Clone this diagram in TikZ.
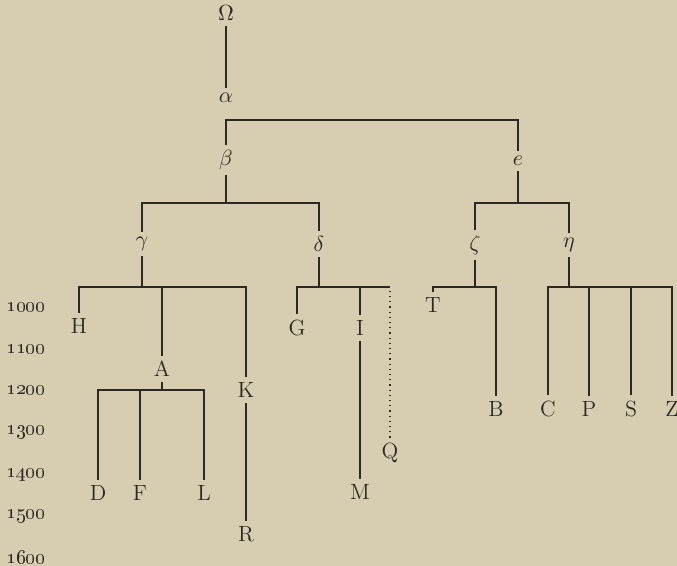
\documentclass[tikz,border=0pt]{standalone}
\usepackage{amsmath}
\usetikzlibrary{positioning,calc}
\definecolor{paper}{RGB}{215,205,177}
\definecolor{ink}{RGB}{45,40,35}
\tikzset{font=\fontsize{11}{13}\selectfont, year/.style={inner sep=1pt, font=\normalsize}}

\begin{document}
\begin{tikzpicture}[x=0.5pt, y=-0.5pt, line width=0.6pt]
	\path[use as bounding box, fill=paper] (0,0) rectangle (677,566);
	\begin{scope}[color=ink]
		\tikzstyle{every node}=[align=center, inner sep=2.5pt]
		% centuries
		\foreach \yr/\ypos in {1000/307,1100/349,1200/390,1300/432,1400/475,1500/516,1600/557}
			\node[year] (y\yr) at (26,\ypos) {\oldstylenums{\yr}};

		\node (omega) at (226,13) {$\Omega$};
		\node (alpha) at (226,98) {$\alpha$};
		\node (beta) at (226,160) {$\beta$};
		\node (eps) at (518,161) {$e$};
		\node (gamma) at (142,244) {$\gamma$};
		\node (delta) at (319,244) {$\delta$};
		\node (zeta) at (475,245) {$\zeta$};
		\node (eta) at (569,245) {$\eta$};

		\node (H) at (79,326) {H};
		\node (A) at (162,369) {A};
		\node (K) at (246,390) {K};
		\node (D) at (98,493) {D};
		\node (F) at (140,493) {F};
		\node (L) at (204,493) {L};
		\node (R) at (246,534) {R};
		\node (G) at (297,328) {G};
		\node (I) at (360,328) {I};
		\node (M) at (360,492) {M};
		\node (Q) at (390,453) {Q};
		\node (T) at (433,305) {T};
		\node (B) at (496,409) {B};
		\node (C) at (548,409) {C};
		\node (P) at (589,409) {P};
		\node (S) at (631,409) {S};
		\node (Z) at (672,409) {Z};

		\coordinate (topbar) at (518,120);
		\coordinate (bb) at (226,203);
		\coordinate (eb) at (518,203);
		\coordinate (gb) at (142,287);
		\coordinate (db) at (319,287);
		\coordinate (zb) at (475,287);
		\coordinate (hb) at (569,287);
		\coordinate (ab) at (162,390);

		\draw (omega) -- (alpha);
		\draw (beta) |- (topbar) -- (eps);

		\draw (beta) -- (bb);
		\draw (gamma) |- (bb) -| (delta);
		\draw (eps) -- (eb);
		\draw (zeta) |- (eb) -| (eta);

		\draw (gamma) -- (gb);
		\draw (H) |- (gb) -| (K);
		\draw (A) -- (A |- gb);
		\draw (A) -- (ab);
		\draw (D) |- (ab) -| (L);
		\draw (F) -- (F |- ab);
		\draw (K) -- (R);

		\draw (delta) -- (db);
		\draw (G) |- (db) -| (I);
		\draw (I |- db) -- (Q |- db);
		\draw[dotted] (Q) -- (Q |- db);
		\draw (I) -- (M);

		\draw (zeta) -- (zb);
		\draw (T) |- (zb) -| (B);

		\draw (eta) -- (hb);
		\draw (C) |- (hb) -| (Z);
		\draw (P) -- (P |- hb);
		\draw (S) -- (S |- hb);
	\end{scope}
\end{tikzpicture}
\end{document}
